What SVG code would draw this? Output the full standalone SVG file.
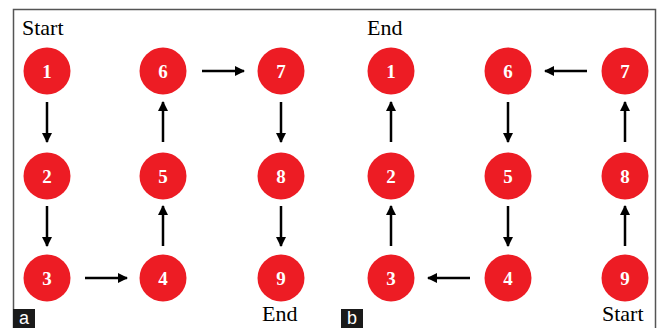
<svg xmlns="http://www.w3.org/2000/svg" width="661" height="328" viewBox="0 0 661 328">
<defs>
<marker id="ah" markerWidth="10" markerHeight="10" refX="9" refY="5" orient="auto" markerUnits="userSpaceOnUse">
<path d="M0,0 L10,5 L0,10 Z" fill="#000"/>
</marker>
<style>
.n circle{fill:#ED1C24}
.n text{font-family:"Liberation Serif",serif;font-weight:bold;font-size:19px;fill:#fff;text-anchor:middle}
.c line{stroke:#000;stroke-width:2.5;marker-end:url(#ah)}
.lbl{font-family:"Liberation Serif",serif;font-size:22px;fill:#000}
.tag text{font-family:"Liberation Sans",sans-serif;font-size:18px;fill:#fff;text-anchor:middle}
</style>
</defs>
<rect width="661" height="328" fill="#fff"/>
<path d="M13.5,330 V9.5 H655.5 V330" fill="none" stroke="#555" stroke-width="1.5"/>
<text class="lbl" x="22" y="35">Start</text>
<text class="lbl" x="262" y="321">End</text>
<text class="lbl" x="367" y="35">End</text>
<text class="lbl" x="602" y="321">Start</text>
<g class="c" id="connectors">
<line x1="47" y1="102" x2="47" y2="142"/>
<line x1="47" y1="206" x2="47" y2="246"/>
<line x1="85" y1="278" x2="127" y2="278"/>
<line x1="163" y1="246" x2="163" y2="206"/>
<line x1="163" y1="142" x2="163" y2="102"/>
<line x1="202" y1="71" x2="244" y2="71"/>
<line x1="281" y1="102" x2="281" y2="142"/>
<line x1="281" y1="206" x2="281" y2="246"/>
<line x1="391" y1="142" x2="391" y2="102"/>
<line x1="391" y1="246" x2="391" y2="206"/>
<line x1="470" y1="278" x2="428" y2="278"/>
<line x1="508" y1="206" x2="508" y2="246"/>
<line x1="508" y1="102" x2="508" y2="142"/>
<line x1="587" y1="71" x2="545" y2="71"/>
<line x1="625" y1="142" x2="625" y2="102"/>
<line x1="625" y1="246" x2="625" y2="206"/>
</g>
<g class="n" id="a1"><circle cx="47" cy="71" r="23.5"/><text x="47" y="78">1</text></g>
<g class="n" id="a2"><circle cx="47" cy="176" r="23.5"/><text x="47" y="183">2</text></g>
<g class="n" id="a3"><circle cx="47" cy="278" r="23.5"/><text x="47" y="285">3</text></g>
<g class="n" id="a4"><circle cx="163" cy="278" r="23.5"/><text x="163" y="285">4</text></g>
<g class="n" id="a5"><circle cx="163" cy="176" r="23.5"/><text x="163" y="183">5</text></g>
<g class="n" id="a6"><circle cx="163" cy="71" r="23.5"/><text x="163" y="78">6</text></g>
<g class="n" id="a7"><circle cx="281" cy="71" r="23.5"/><text x="281" y="78">7</text></g>
<g class="n" id="a8"><circle cx="281" cy="176" r="23.5"/><text x="281" y="183">8</text></g>
<g class="n" id="a9"><circle cx="281" cy="278" r="23.5"/><text x="281" y="285">9</text></g>
<g class="n" id="b1"><circle cx="391" cy="71" r="23.5"/><text x="391" y="78">1</text></g>
<g class="n" id="b2"><circle cx="391" cy="176" r="23.5"/><text x="391" y="183">2</text></g>
<g class="n" id="b3"><circle cx="391" cy="278" r="23.5"/><text x="391" y="285">3</text></g>
<g class="n" id="b4"><circle cx="508" cy="278" r="23.5"/><text x="508" y="285">4</text></g>
<g class="n" id="b5"><circle cx="508" cy="176" r="23.5"/><text x="508" y="183">5</text></g>
<g class="n" id="b6"><circle cx="508" cy="71" r="23.5"/><text x="508" y="78">6</text></g>
<g class="n" id="b7"><circle cx="625" cy="71" r="23.5"/><text x="625" y="78">7</text></g>
<g class="n" id="b8"><circle cx="625" cy="176" r="23.5"/><text x="625" y="183">8</text></g>
<g class="n" id="b9"><circle cx="625" cy="278" r="23.5"/><text x="625" y="285">9</text></g>
<g class="tag" id="tag-a"><rect x="13" y="309" width="22" height="19" fill="#1a1a1a"/><text x="24" y="324">a</text></g>
<g class="tag" id="tag-b"><rect x="341" y="309" width="22" height="19" fill="#1a1a1a"/><text x="352" y="324">b</text></g>
</svg>
